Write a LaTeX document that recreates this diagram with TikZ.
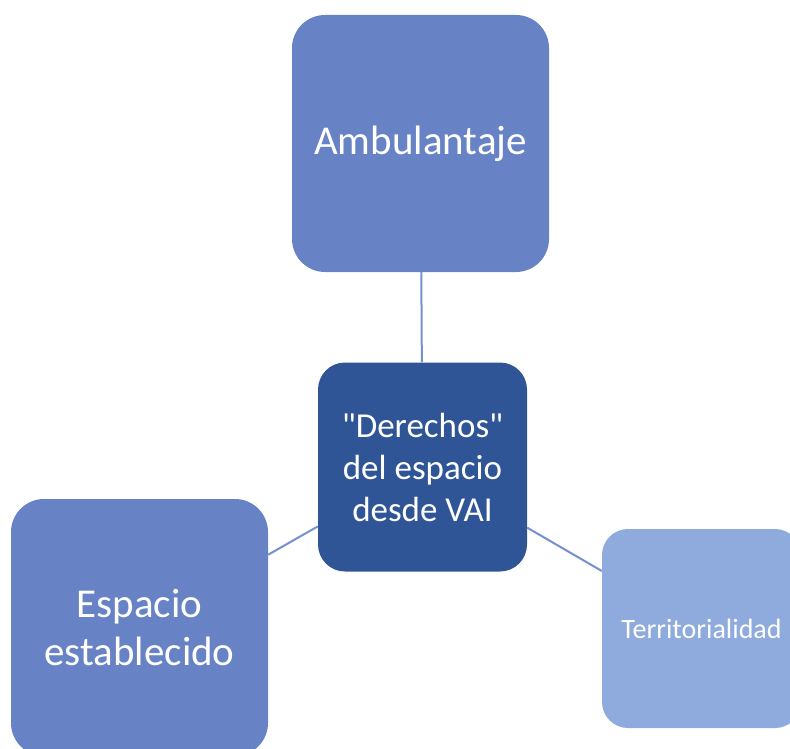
\documentclass[tikz,border=0pt]{standalone}
\usepackage{fontspec}
\setmainfont{Carlito}[Ligatures=TeXOff]
\usepackage{tikz}
\definecolor{boxmid}{HTML}{6783C5}
\definecolor{boxdark}{HTML}{2F5597}
\definecolor{boxlight}{HTML}{8FAADC}
\definecolor{linkblue}{HTML}{7490CF}
\tikzset{
  bigbox/.style={rectangle,rounded corners=33pt,minimum width=257pt,minimum height=257pt,
    inner sep=0pt,text=white,align=center,fill=boxmid},
  hubbox/.style={rectangle,rounded corners=27pt,minimum width=209pt,minimum height=209pt,
    inner sep=0pt,text=white,align=center,fill=boxdark,font=\fontsize{35}{42}\selectfont},
  sidebox/.style={rectangle,rounded corners=26pt,minimum width=199pt,minimum height=199pt,
    inner sep=0pt,text=white,align=center,fill=boxlight,font=\fontsize{28}{34}\selectfont},
  link/.style={draw=linkblue,line width=2pt}
}
\begin{document}
\begin{tikzpicture}[x=1pt,y=-1pt]
\useasboundingbox (0,0) rectangle (790,749);
\clip (0,0) rectangle (790,749);
\node[bigbox,font=\fontsize{41}{47}\selectfont] (ambulantaje) at (420.5,143.5) {Ambulantaje};
\node[hubbox] (derechos) at (422.5,467) {"Derechos"\\del espacio\\desde VAI};
\node[bigbox,font=\fontsize{41}{48}\selectfont] (establecido) at (139.5,627.5) {Espacio\\establecido};
\node[sidebox] (territorio) at (701.5,628.5) {Territorialidad};
% enlaces al centro
\draw[link] (derechos) -- (ambulantaje);
\draw[link] (derechos) -- (establecido);
\draw[link] (derechos) -- (territorio);
\end{tikzpicture}
\end{document}
